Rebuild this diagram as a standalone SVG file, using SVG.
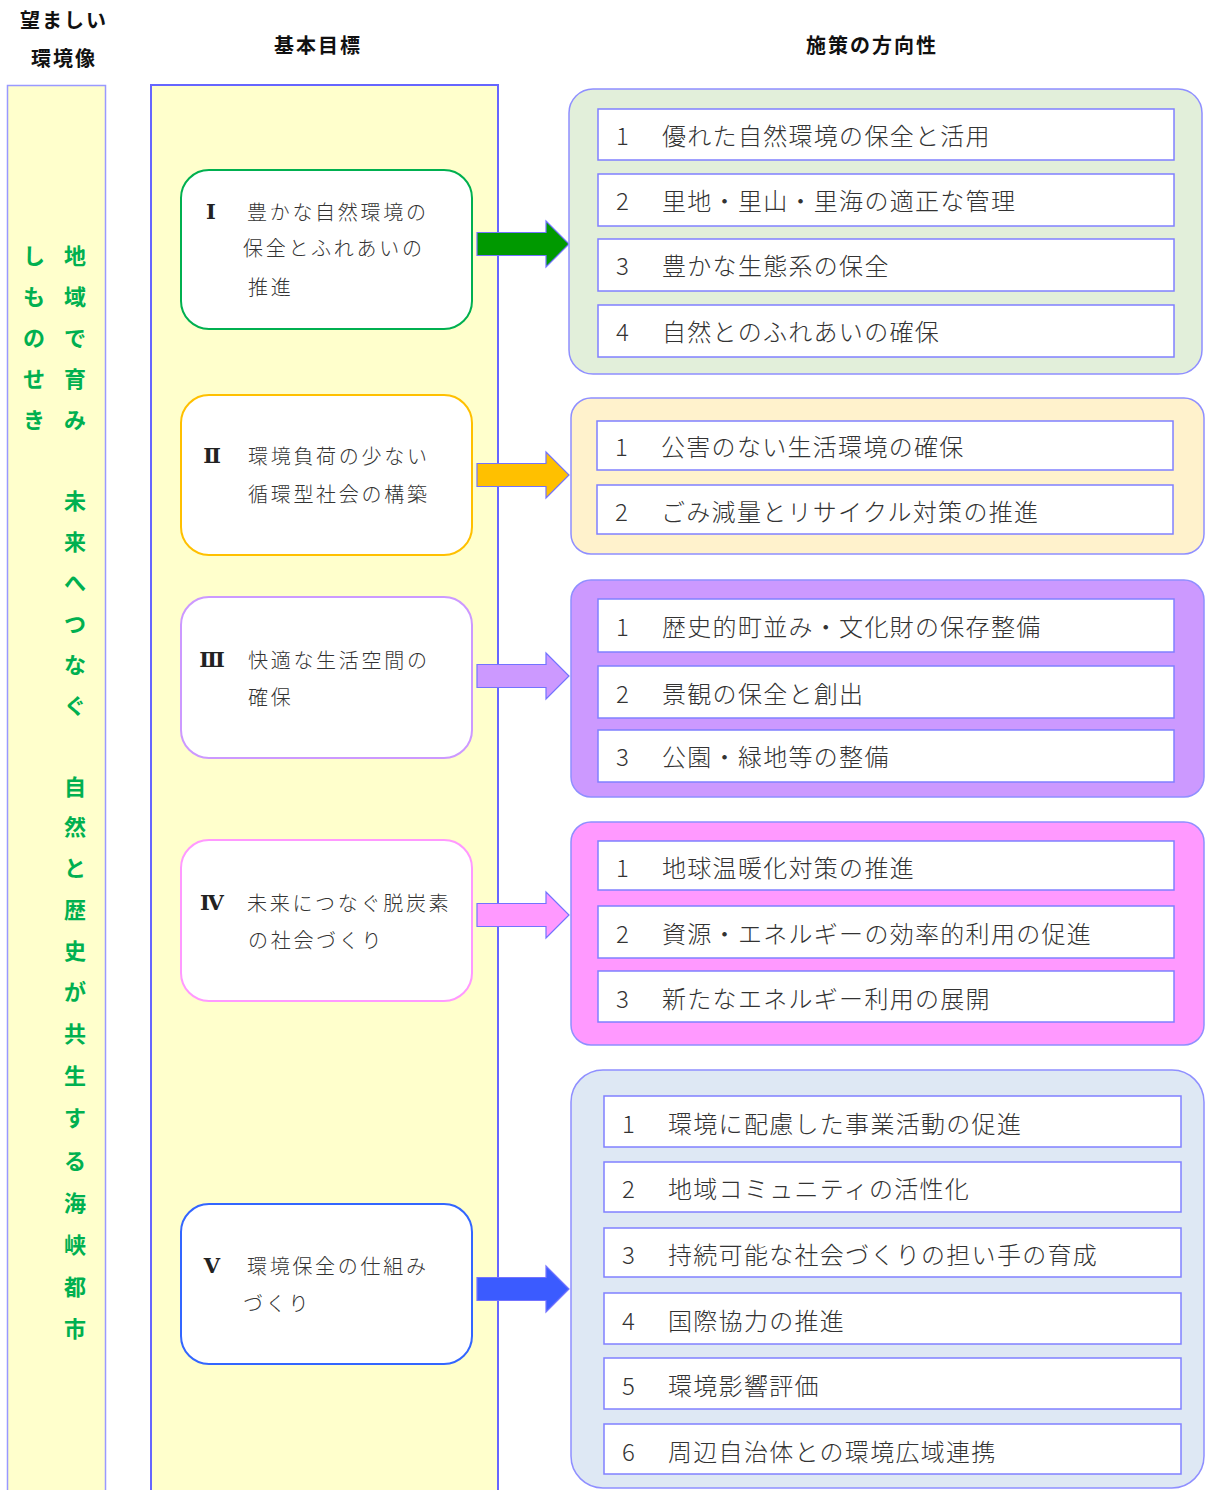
<svg xmlns="http://www.w3.org/2000/svg" width="1206" height="1490" viewBox="0 0 1206 1490">
<style>
.hd{font-family:"Noto Sans CJK JP","Noto Sans",sans-serif;font-weight:bold;font-size:20px;letter-spacing:2px;fill:#111;text-anchor:middle;dominant-baseline:central}
.vt{font-family:"Noto Sans CJK JP","Noto Sans",sans-serif;font-weight:bold;font-size:22px;fill:#00b050;text-anchor:middle;dominant-baseline:central}
.col{fill:#ffffcc}
.goal{fill:#ffffff;stroke-width:2}
.gt{font-family:"Noto Sans CJK JP","Noto Sans",sans-serif;font-weight:300;font-size:20px;letter-spacing:2.7px;fill:#333;dominant-baseline:central}
.rn{font-family:"DejaVu Serif","Liberation Serif",serif;font-weight:bold;font-size:21px;fill:#222;text-anchor:middle;dominant-baseline:central}
.grp{stroke:#8f8fff;stroke-width:1.5}
.item{fill:#ffffff;stroke:#8080ff;stroke-width:1.5}
.it{font-family:"Noto Sans CJK JP","Noto Sans",sans-serif;font-weight:300;font-size:24px;letter-spacing:1.3px;fill:#333;dominant-baseline:central}
.arr{stroke:#7373ff;stroke-width:1.2}
</style>
<g id="headers">
<text class="hd" x="64" y="19">望ましい</text>
<text class="hd" x="64" y="57">環境像</text>
<text class="hd" x="318" y="44">基本目標</text>
<text class="hd" x="872" y="44">施策の方向性</text>
</g>
<g id="vision">
<rect class="col" x="7.5" y="85.5" width="98" height="1410" stroke="#9999ff" stroke-width="1.5"/>
<text class="vt"><tspan x="34" y="254">し</tspan><tspan x="34" y="295">も</tspan><tspan x="34" y="336">の</tspan><tspan x="34" y="377">せ</tspan><tspan x="34" y="418">き</tspan></text>
<text class="vt"><tspan x="75" y="254">地</tspan><tspan x="75" y="295">域</tspan><tspan x="75" y="336">で</tspan><tspan x="75" y="377">育</tspan><tspan x="75" y="418">み</tspan><tspan x="75" y="499">未</tspan><tspan x="75" y="540">来</tspan><tspan x="75" y="581">へ</tspan><tspan x="75" y="622">つ</tspan><tspan x="75" y="663">な</tspan><tspan x="75" y="704">ぐ</tspan><tspan x="75" y="785">自</tspan><tspan x="75" y="825">然</tspan><tspan x="75" y="866">と</tspan><tspan x="75" y="908">歴</tspan><tspan x="75" y="949">史</tspan><tspan x="75" y="990">が</tspan><tspan x="75" y="1032">共</tspan><tspan x="75" y="1074">生</tspan><tspan x="75" y="1116">す</tspan><tspan x="75" y="1159">る</tspan><tspan x="75" y="1201">海</tspan><tspan x="75" y="1243">峡</tspan><tspan x="75" y="1285">都</tspan><tspan x="75" y="1327">市</tspan></text>
</g>
<g id="goals-column">
<rect class="col" x="151" y="85" width="347" height="1412" stroke="#6666ff" stroke-width="2"/>
</g>
<g id="goal1">
<rect class="goal" x="181" y="170" width="291" height="159" rx="28" stroke="#00b050"/>
<text class="rn" x="211" y="211">Ⅰ</text>
<text class="gt" x="247" y="211">豊かな自然環境の</text>
<text class="gt" x="243" y="247">保全とふれあいの</text>
<text class="gt" x="248" y="286">推進</text>
</g>
<g id="goal2">
<rect class="goal" x="181" y="395" width="291" height="160" rx="28" stroke="#ffc000"/>
<text class="rn" x="212" y="455">Ⅱ</text>
<text class="gt" x="248" y="455">環境負荷の少ない</text>
<text class="gt" x="248" y="493">循環型社会の構築</text>
</g>
<g id="goal3">
<rect class="goal" x="181" y="597" width="291" height="161" rx="28" stroke="#cc99ff"/>
<text class="rn" x="212" y="659">Ⅲ</text>
<text class="gt" x="248" y="659">快適な生活空間の</text>
<text class="gt" x="248" y="696">確保</text>
</g>
<g id="goal4">
<rect class="goal" x="181" y="840" width="291" height="161" rx="28" stroke="#ff99ff"/>
<text class="rn" x="212" y="902">Ⅳ</text>
<text class="gt" x="247" y="902">未来につなぐ脱炭素</text>
<text class="gt" x="248" y="939">の社会づくり</text>
</g>
<g id="goal5">
<rect class="goal" x="181" y="1204" width="291" height="160" rx="28" stroke="#3366ff"/>
<text class="rn" x="212" y="1265">Ⅴ</text>
<text class="gt" x="247" y="1265">環境保全の仕組み</text>
<text class="gt" x="243" y="1302">づくり</text>
</g>
<g id="connectors">
<path class="arr" fill="#009900" d="M477 232.5H546V221L569 244L546 267V255.5H477Z"/>
<path class="arr" fill="#ffc000" d="M477 463.5H546V452L569 475L546 498V486.5H477Z"/>
<path class="arr" fill="#cc99ff" d="M477 664.5H546V653L569 676L546 699V687.5H477Z"/>
<path class="arr" fill="#ff99ff" d="M477 903.5H546V892L569 915L546 938V926.5H477Z"/>
<path class="arr" fill="#3b5bff" d="M477 1277.5H546V1266L569 1289L546 1312V1300.5H477Z"/>
</g>
<g id="policy1">
<rect class="grp" x="569" y="89" width="633" height="285" rx="24" fill="#e2efda"/>
<rect class="item" x="598" y="109" width="576" height="51"/>
<rect class="item" x="598" y="174" width="576" height="52"/>
<rect class="item" x="598" y="239" width="576" height="52"/>
<rect class="item" x="598" y="305" width="576" height="52"/>
<text class="it" x="616" y="134">1</text><text class="it" x="662" y="134">優れた自然環境の保全と活用</text>
<text class="it" x="616" y="199">2</text><text class="it" x="662" y="199">里地・里山・里海の適正な管理</text>
<text class="it" x="616" y="264">3</text><text class="it" x="662" y="264">豊かな生態系の保全</text>
<text class="it" x="616" y="330">4</text><text class="it" x="662" y="330">自然とのふれあいの確保</text>
</g>
<g id="policy2">
<rect class="grp" x="571" y="398" width="633" height="156" rx="20" fill="#fff2cc"/>
<rect class="item" x="597" y="421" width="576" height="49"/>
<rect class="item" x="597" y="485" width="576" height="49"/>
<text class="it" x="615" y="445">1</text><text class="it" x="661" y="445">公害のない生活環境の確保</text>
<text class="it" x="615" y="510">2</text><text class="it" x="661" y="510">ごみ減量とリサイクル対策の推進</text>
</g>
<g id="policy3">
<rect class="grp" x="571" y="580" width="633" height="217" rx="20" fill="#cc99ff"/>
<rect class="item" x="598" y="599" width="576" height="53"/>
<rect class="item" x="598" y="666" width="576" height="52"/>
<rect class="item" x="598" y="730" width="576" height="52"/>
<text class="it" x="616" y="625">1</text><text class="it" x="662" y="625">歴史的町並み・文化財の保存整備</text>
<text class="it" x="616" y="692">2</text><text class="it" x="662" y="692">景観の保全と創出</text>
<text class="it" x="616" y="755">3</text><text class="it" x="662" y="755">公園・緑地等の整備</text>
</g>
<g id="policy4">
<rect class="grp" x="571" y="822" width="633" height="223" rx="20" fill="#ff99ff"/>
<rect class="item" x="598" y="841" width="576" height="49"/>
<rect class="item" x="598" y="906" width="576" height="52"/>
<rect class="item" x="598" y="971" width="576" height="51"/>
<text class="it" x="616" y="866">1</text><text class="it" x="662" y="866">地球温暖化対策の推進</text>
<text class="it" x="616" y="932">2</text><text class="it" x="662" y="932">資源・エネルギーの効率的利用の促進</text>
<text class="it" x="616" y="997">3</text><text class="it" x="662" y="997">新たなエネルギー利用の展開</text>
</g>
<g id="policy5">
<rect class="grp" x="571" y="1070" width="633" height="418" rx="32" fill="#dee8f4"/>
<rect class="item" x="604" y="1096" width="577" height="51"/>
<rect class="item" x="604" y="1162" width="577" height="50"/>
<rect class="item" x="604" y="1228" width="577" height="49"/>
<rect class="item" x="604" y="1293" width="577" height="51"/>
<rect class="item" x="604" y="1358" width="577" height="51"/>
<rect class="item" x="604" y="1424" width="577" height="50"/>
<text class="it" x="622" y="1122">1</text><text class="it" x="668" y="1122">環境に配慮した事業活動の促進</text>
<text class="it" x="622" y="1187">2</text><text class="it" x="668" y="1187">地域コミュニティの活性化</text>
<text class="it" x="622" y="1253">3</text><text class="it" x="668" y="1253">持続可能な社会づくりの担い手の育成</text>
<text class="it" x="622" y="1319">4</text><text class="it" x="668" y="1319">国際協力の推進</text>
<text class="it" x="622" y="1384">5</text><text class="it" x="668" y="1384">環境影響評価</text>
<text class="it" x="622" y="1450">6</text><text class="it" x="668" y="1450">周辺自治体との環境広域連携</text>
</g>
</svg>
